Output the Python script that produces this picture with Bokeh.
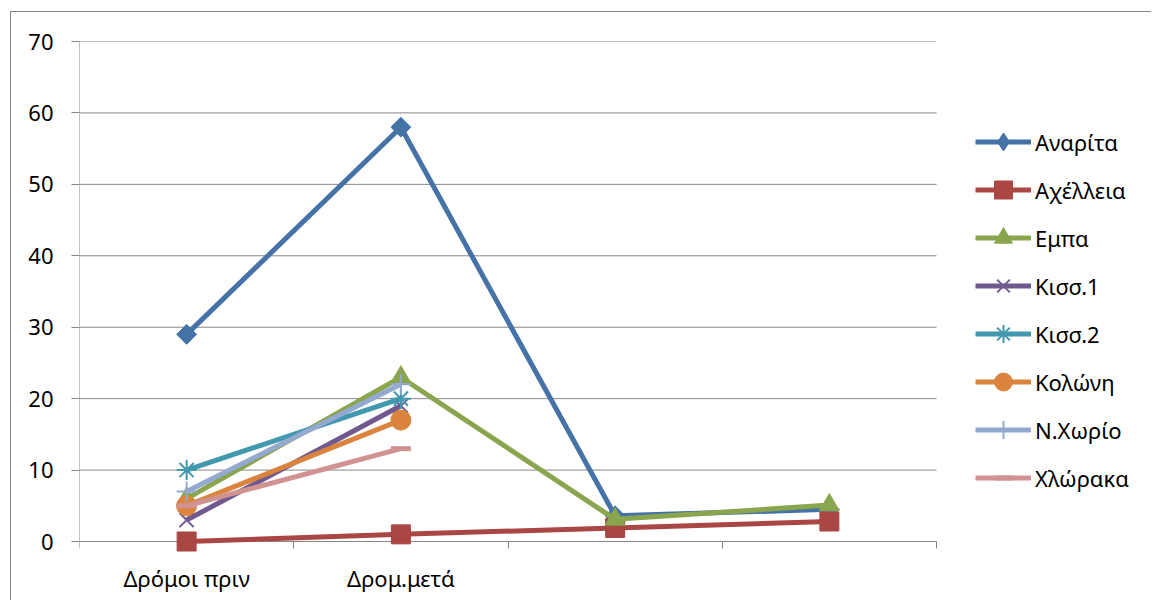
from bokeh.plotting import figure
from bokeh.models import FixedTicker, Legend, LegendItem, Range1d
from bokeh.embed import file_html
from bokeh.resources import INLINE

# ---- data ----
categories = ["Δρόμοι πριν", "Δρομ.μετά", "", ""]
series_names = ["Αναρίτα", "Αχέλλεια", "Εμπα", "Κισσ.1", "Κισσ.2", "Κολώνη", "Ν.Χωρίο", "Χλώρακα"]
anarita = [29, 58, 3.6, 4.5]
achelleia = [0, 1, 1.9, 2.8]
empa = [6, 23, 3.1, 5.1]
kiss1 = [3, 19]
kiss2 = [10, 20]
koloni = [5, 17]
nchorio = [7, 22]
chloraka = [5, 13]
y_ticks = [0, 10, 20, 30, 40, 50, 60, 70]

values = [anarita, achelleia, empa, kiss1, kiss2, koloni, nchorio, chloraka]
colors = ["#4572A7", "#AA4643", "#89A54E", "#71588F", "#4198AF", "#DB843D", "#93A9CF", "#D19392"]
markers = [("square", 14, 45), ("square", 19, 0), ("triangle", 20, 0), ("x", 20, 0),
           ("asterisk", 20, 0), ("circle", 20, 0), ("cross", 20, 0), ("dash", 20, 0)]

FONT = "Noto Sans"
GRAY = "#868686"

n_cat = len(categories)
y_max = y_ticks[-1]
# plot area: x 79..936 px, y 41..541 px. The frame is widened to the page's
# right and bottom edges so that the legend and the markers at 0 are not clipped.
cat_px = (936 - 79) / n_cat
x_end = n_cat + (1152 - 936) / cat_px
unit_px = (541 - 41) / y_max
y_start = -(601 - 541) / unit_px

OX, OY = 11, 12
p = figure(width=1152 - OX, height=601 - OY, output_backend="svg", toolbar_location=None,
           x_range=Range1d(0, x_end), y_range=Range1d(y_start, y_max),
           min_border_left=79 - OX, min_border_top=41 - OY,
           min_border_right=0, min_border_bottom=0,
           styles={"margin-left": "10px", "margin-top": "11px",
                   "border-left": "1px solid #868686", "border-top": "1px solid #868686"})
p.outline_line_color = None
p.background_fill_color = "white"
p.border_fill_color = "white"

# axes
centers = [i + 0.5 for i in range(n_cat)]
p.xaxis.fixed_location = 0
p.xaxis.ticker = FixedTicker(ticks=centers, minor_ticks=list(range(n_cat + 1)))
p.xaxis.major_label_overrides = {c: lab for c, lab in zip(centers, categories)}
p.xaxis.major_tick_out = 0
p.xaxis.major_tick_in = 0
p.xaxis.minor_tick_out = 7
p.xaxis.minor_tick_in = 0
p.xaxis.minor_tick_line_color = GRAY
p.xaxis.axis_line_color = None
p.xaxis.major_label_standoff = 14
p.yaxis.ticker = FixedTicker(ticks=y_ticks, minor_ticks=[])
p.yaxis.major_tick_out = 8
p.yaxis.major_tick_in = 0
p.yaxis.major_tick_line_color = GRAY
p.yaxis.axis_line_color = None
p.yaxis.major_label_standoff = 18
for ax in (p.xaxis, p.yaxis):
    ax.major_label_text_font = FONT
    ax.major_label_text_font_size = "22px"
    ax.major_label_text_color = "black"
p.xgrid.grid_line_color = None
p.ygrid.grid_line_color = None

# horizontal gridlines (incl. the category axis line at 0) and the value axis line,
# limited to the plot area
p.segment(x0=[0] * len(y_ticks), x1=[n_cat] * len(y_ticks), y0=y_ticks, y1=y_ticks,
          line_color=GRAY, line_width=1)
p.segment(x0=[0], x1=[0], y0=[0], y1=[y_max], line_color=GRAY, line_width=1)

items = []
for name, vals, col, (mk, sz, ang) in zip(series_names, values, colors, markers):
    xs = centers[:len(vals)]
    ln = p.line(xs, vals, line_color=col, line_width=5, line_join="round")
    if mk in ("x", "asterisk", "cross", "dash"):
        sc = p.scatter(xs, vals, marker=mk, size=sz, line_color=col,
                       line_width=(5 if mk == "dash" else 2))
    else:
        sc = p.scatter(xs, vals, marker=mk, size=sz, angle=ang, angle_units="deg",
                       fill_color=col, line_color=col)
    rends = [ln, sc]
    if ang:
        # legend-only diamond (the rotated square's angle is not used in legends)
        lg = p.scatter([float("nan")], [float("nan")], marker="diamond", size=sz,
                       fill_color=col, line_color=col)
        rends = [ln, lg]
    items.append(LegendItem(label=name, renderers=rends))

legend = Legend(items=items, location=(975 - 79, 41 + (601 - 541)), orientation="vertical",
                glyph_width=56, glyph_height=45, label_height=45, spacing=3,
                label_standoff=4, padding=0, margin=0,
                border_line_color=None, background_fill_alpha=0,
                label_text_font=FONT, label_text_font_size="22px",
                label_text_color="black", label_text_baseline="middle")
p.add_layout(legend, "center")

open("out.html", "w").write(file_html(p, INLINE))
